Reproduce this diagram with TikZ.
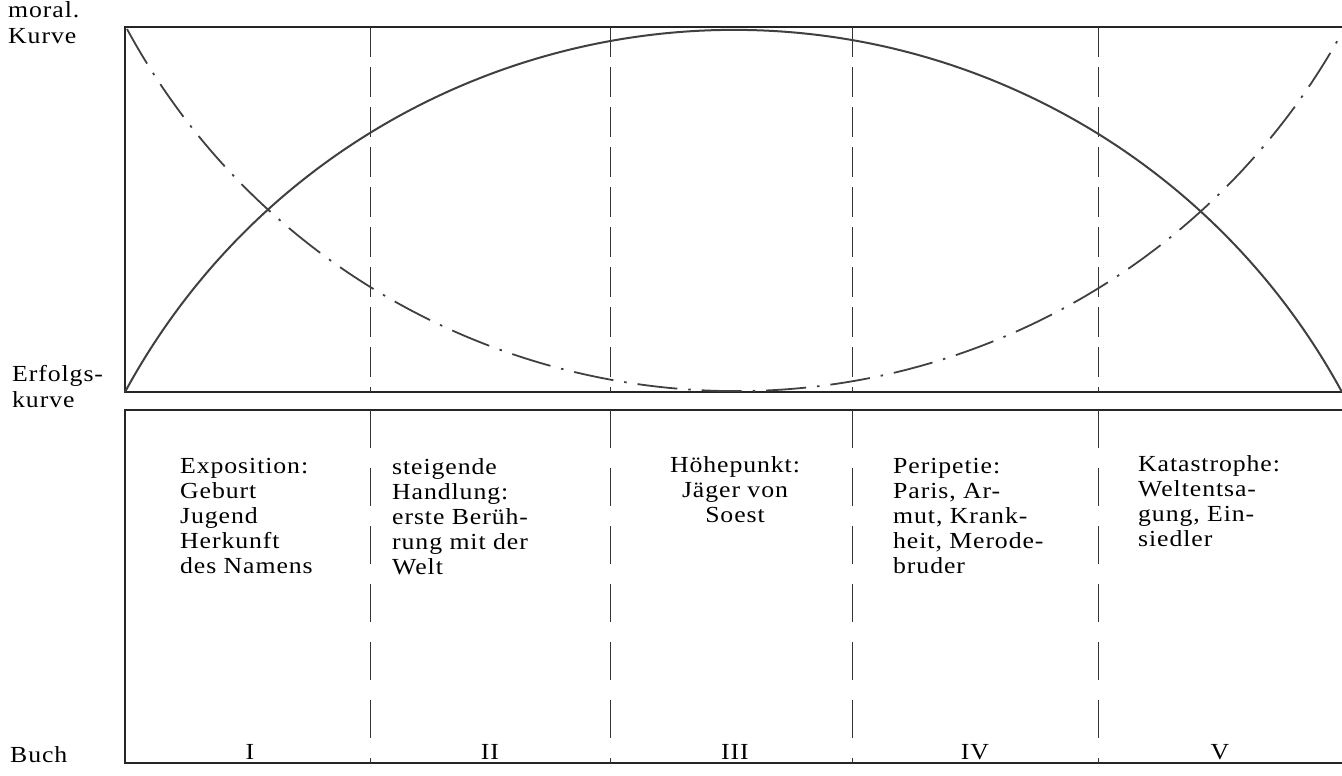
\documentclass[tikz,border=0pt]{standalone}
\usepackage{fontspec}
\setmainfont[LetterSpace=4,FakeStretch=1.12]{Liberation Serif}
\begin{document}
\begin{tikzpicture}[x=1pt,y=-1pt,
  frame/.style={line width=1.6pt,black!85},
  divider/.style={line width=1pt,black!80,dash pattern=on 30pt off 10pt},
  divlow/.style={line width=1pt,black!80,dash pattern=on 38pt off 20pt},
  erfolg/.style={line width=2pt,black!75},
  moral/.style={line width=1.8pt,black!75,dash pattern=on 40pt off 11pt on 2.5pt off 11pt},
  txt/.style={inner sep=0pt,font=\fontsize{23}{25}\selectfont},
  lbl/.style={inner sep=0pt,align=left,font=\fontsize{23}{26}\selectfont}]
\useasboundingbox (0,0) rectangle (1342,776);
% corners
\coordinate (tl) at (125,27);
\coordinate (tr) at (1342,27);
\coordinate (bl) at (125,392);
\coordinate (br) at (1342,392);
\coordinate (ltl) at (125,410);
\coordinate (ltr) at (1342,410);
\coordinate (lbl) at (125,763);
\coordinate (lbr) at (1342,763);
% frames
\draw[frame] (tr) -- (tl) -- (bl) -- (br);
\draw[frame] (ltr) -- (ltl) -- (lbl) -- (lbr);
% dividers
\foreach \n/\x in {1/370,2/610,3/852,4/1098}{
  \coordinate (dt\n) at (\x,27);
  \coordinate (db\n) at (\x,392);
  \coordinate (lt\n) at (\x,410);
  \coordinate (lb\n) at (\x,763);
  \draw[divider] (dt\n) -- (db\n);
  \draw[divlow] (lt\n) -- (lb\n);
}
% curves
\draw[erfolg] (bl) arc[start angle=151.5, end angle=28.5, radius=692.4pt];
\coordinate (ms) at (127,29);
\draw[moral] (ms) arc[start angle=-151.5, end angle=-28.5, radius=692.4pt];
% left labels
\node[lbl,anchor=north west] (moral) at (8,1) {moral.\\Kurve};
\node[lbl,anchor=north west] (erf) at (12,365) {Erfolgs-\\kurve};
\node[lbl,anchor=west] (buch) at (10,755) {Buch};
% column texts
\node[txt,anchor=north west,align=left] (c1) at (180,458) {Exposition:\\Geburt\\Jugend\\Herkunft\\des Namens};
\node[txt,anchor=north west,align=left] (c2) at (392,458) {steigende\\Handlung:\\erste Berüh-\\rung mit der\\Welt};
\node[txt,anchor=north,align=center] (c3) at (735,456) {Höhepunkt:\\Jäger von\\Soest};
\node[txt,anchor=north west,align=left] (c4) at (893,458) {Peripetie:\\Paris, Ar-\\mut, Krank-\\heit, Merode-\\bruder};
\node[txt,anchor=north west,align=left] (c5) at (1138,455) {Katastrophe:\\Weltentsa-\\gung, Ein-\\siedler};
% book numbers
\foreach \n/\x/\t in {b1/250/I,b2/490/II,b3/735/III,b4/975/IV,b5/1220/V}{
  \node[txt] (\n) at (\x,752) {\t};
}
\end{tikzpicture}
\end{document}
